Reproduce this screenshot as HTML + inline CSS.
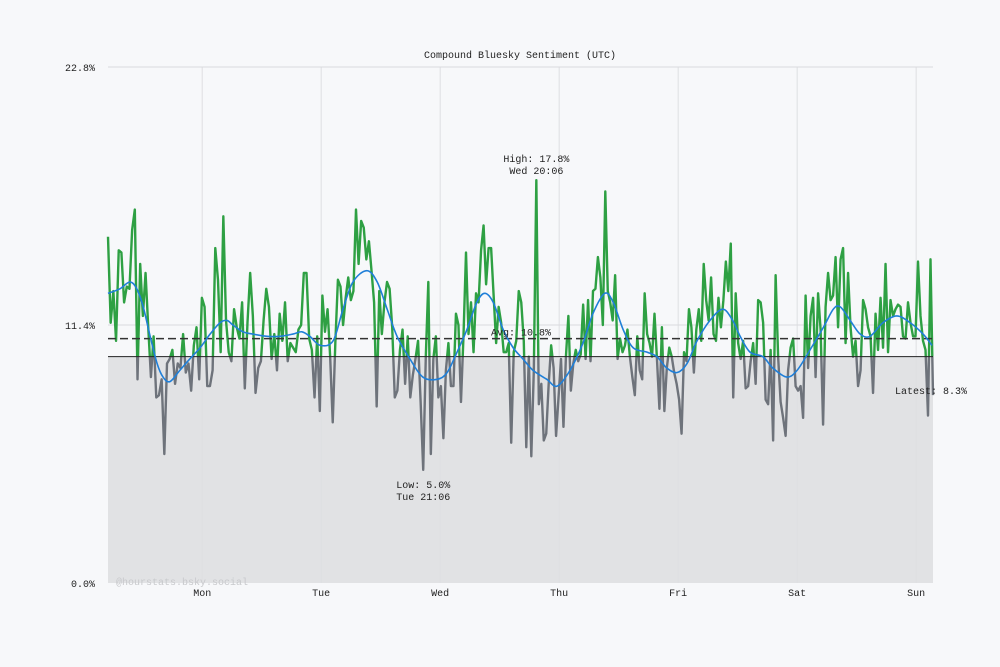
<!DOCTYPE html>
<html><head><meta charset="utf-8"><style>
html,body{margin:0;padding:0;background:#f7f8fa;}
svg{display:block;font-family:"Liberation Mono","DejaVu Sans Mono",monospace;}
</style></head><body>
<svg id="chart" width="1000" height="667" viewBox="0 0 1000 667" xmlns="http://www.w3.org/2000/svg">
<rect width="1000" height="667" fill="#f7f8fa"/>
<text x="520" y="58" text-anchor="middle" font-size="10" fill="#222">Compound Bluesky Sentiment (UTC)</text>
<g id="plot"></g>
</svg>
<script>
const dayLabels = ["Mon","Tue","Wed","Thu","Fri","Sat","Sun"];
const dayStartHours = [19, 43, 67, 91, 115, 139, 163];
const yTickValues = [0, 11.4, 22.8];
const yTickLabels = ["0.0%", "11.4%", "22.8%"];
const threshold = 10.0;
const average = 10.8;
const sentiment = [
15.3,11.5,12.9,10.7,14.7,14.6,12.4,13.1,13.0,15.6,16.5,9.0,14.1,11.8,13.7,11.3,9.1,10.9,8.2,8.3,9.0,5.7,9.7,9.9,10.3,8.8,9.7,9.5,11.0,9.3,9.7,8.5,10.5,11.3,9.0,12.6,12.2,8.7,8.7,9.4,14.8,13.4,10.2,16.2,11.6,10.2,9.8,12.1,11.3,10.8,12.4,8.6,11.5,13.7,11.8,8.4,9.5,9.8,11.6,13.0,12.2,9.9,11.0,9.4,11.9,10.7,12.4,9.8,10.6,10.4,10.2,11.2,11.4,13.7,13.7,10.8,10.3,8.2,10.9,
7.6,12.7,11.1,12.1,10.0,7.1,10.6,13.4,13.1,11.4,12.6,13.5,12.5,12.9,16.5,14.1,16.0,15.7,14.3,15.1,13.8,12.4,7.8,12.9,11.0,12.4,13.3,13.0,11.3,8.2,8.5,10.3,11.2,8.8,10.9,8.2,9.2,9.9,10.7,8.0,5.0,10.0,13.3,5.7,9.9,10.9,8.2,8.7,6.4,9.4,10.6,8.7,8.7,11.9,11.4,8.0,10.9,14.6,11.0,12.4,10.2,12.8,12.4,14.7,15.8,13.2,14.8,14.8,12.7,10.6,12.2,11.5,10.2,10.2,10.6,6.2,10.2,10.7,12.9,12.4,10.7,6.0,
10.0,5.6,9.4,17.8,7.9,8.8,6.3,6.6,8.8,10.5,9.5,6.5,8.2,9.9,6.9,10.0,11.8,8.5,9.7,10.3,9.8,10.1,12.3,9.9,12.5,9.8,12.9,13.0,14.4,13.5,11.4,17.3,12.9,12.4,11.6,13.6,9.9,10.8,10.2,10.5,11.2,10.0,9.1,8.3,10.9,9.4,9.0,12.8,11.0,10.6,10.0,11.9,9.9,7.7,11.3,7.6,9.5,10.4,10.0,9.3,8.8,8.1,6.6,10.2,9.8,12.1,11.3,9.3,11.2,12.1,10.7,14.1,12.5,11.6,13.5,11.0,10.7,12.6,11.3,12.5,14.2,12.9,15.0,8.2,12.8,
10.6,9.9,10.7,8.6,8.7,9.8,10.6,8.8,12.5,12.4,11.5,8.1,7.9,10.3,6.3,13.6,10.0,8.0,7.3,6.5,9.4,10.4,10.8,8.7,8.5,8.7,7.3,12.7,9.5,11.8,12.6,9.1,12.8,11.2,7.0,12.2,13.7,12.5,12.7,14.4,11.3,14.3,14.8,10.6,13.7,11.3,10.0,10.7,8.7,9.4,12.5,12.1,11.3,10.9,8.4,11.9,10.3,12.6,10.4,14.1,10.2,12.5,11.8,12.1,12.3,12.2,10.9,10.8,12.4,11.5,10.9,10.9,14.2,11.8,10.7,10.3,7.4,14.3,8.3
];
// observation-time anchors (sample index -> hours since start)
const anchorIndex = [0, 78, 120, 165, 193, 246, sentiment.length - 1];
const anchorHours = [0, 42.2, 64.1, 86.9, 100.8, 127.1, 166.4];
const trendHours = [0,2.4,4.4,5.8,7.1,8.5,9.9,11.1,12.5,14.5,16.5,18.6,20.6,22.6,24.0,25.2,27.2,29.2,32.1,34.7,37.3,39.1,40.7,42.8,45.4,47.4,49.4,52.2,54.3,56.3,58.3,60.9,63.5,66.4,68.4,70.4,72.4,74.4,76.0,77.7,79.7,81.7,83.7,85.7,88.5,90.6,93.2,95.8,97.8,100.2,101.9,103.9,105.9,108.7,110.7,112.7,114.8,116.8,118.8,121.4,124.0,126.0,127.5,129.5,132.1,134.1,136.9,139.0,141.6,144.3,146.3,147.7,149.7,151.7,153.7,156.3,159.1,161.8,164.4,166.2];
const trendValues = [12.8,13.0,13.3,13.0,12.2,10.9,9.7,9.1,8.9,9.4,9.9,10.4,11.0,11.5,11.6,11.4,11.1,11.0,10.9,10.9,11.0,11.1,10.9,10.5,10.7,12.1,13.3,13.8,13.3,12.1,10.9,9.9,9.1,9.0,9.3,10.2,11.2,12.4,12.8,12.4,11.2,10.4,9.9,9.4,9.0,8.7,9.4,10.6,11.9,12.8,12.4,11.2,10.4,10.2,10.0,9.5,9.3,9.7,10.7,11.6,12.1,11.6,10.9,10.2,10.0,9.5,9.1,9.4,10.3,11.3,12.1,12.2,11.6,11.0,10.9,11.5,11.8,11.5,11.0,10.5];

const X0 = 108, X1 = 933, Y0 = 583, Y1 = 67, totalHours = 166.4, yMax = 22.8;
const xScale = h => X0 + h / totalHours * (X1 - X0);
const yScale = v => Y0 - v / yMax * (Y0 - Y1);
function indexToHour(i) {
  for (let k = 0; k < anchorIndex.length - 1; k++) {
    if (i <= anchorIndex[k + 1]) {
      const f = (i - anchorIndex[k]) / (anchorIndex[k + 1] - anchorIndex[k]);
      return anchorHours[k] + f * (anchorHours[k + 1] - anchorHours[k]);
    }
  }
  return anchorHours[anchorHours.length - 1];
}
const NS = "http://www.w3.org/2000/svg";
const plot = document.getElementById("plot");
function mk(tag, attrs, parent) {
  const e = document.createElementNS(NS, tag);
  for (const k in attrs) e.setAttribute(k, attrs[k]);
  (parent || plot).appendChild(e);
  return e;
}
const yT = yScale(threshold);
const defs = mk("defs", {});
const cA = mk("clipPath", {id: "above"}, defs);
mk("rect", {x: 0, y: 0, width: 1000, height: yT}, cA);
const cB = mk("clipPath", {id: "below"}, defs);
mk("rect", {x: 0, y: yT, width: 1000, height: 667 - yT}, cB);

const low = mk("rect", {x: X0, y: yT, width: X1 - X0, height: Y0 - yT, fill: "#e1e2e4"});



dayLabels.forEach((d, i) => {
  const x = xScale(dayStartHours[i]);
  const g = mk("line", {x1: x, x2: x, y1: Y1, y2: Y0, stroke: "#dedfe2", "stroke-width": 1});
  
  
  const t = mk("text", {x: x, y: 596, "text-anchor": "middle", "font-size": 10, fill: "#222"});
  t.textContent = d;
  
  
});
yTickValues.forEach((v, i) => {
  const y = yScale(v);
  if (v > 0) {
    const g = mk("line", {x1: X0, x2: X1, y1: y, y2: y, stroke: "#d9dadd", "stroke-width": 1});
    
    
  }
  const t = mk("text", {x: 95, y: y + 4, "text-anchor": "end", "font-size": 10, fill: "#222"});
  t.textContent = yTickLabels[i];
  
  
});
const wm = mk("text", {x: 116, y: 585, "font-size": 10, fill: "#c8c9cc"});
wm.textContent = "@hourstats.bsky.social";



const n = sentiment.length;
const pts = sentiment.map((v, i) => [xScale(indexToHour(i)), yScale(v)]);
const d = "M" + pts.map(p => p[0].toFixed(2) + "," + p[1].toFixed(2)).join("L");
const lineG = mk("path", {d: d, fill: "none", stroke: "#2ea043", "stroke-width": 2.4, "stroke-linejoin": "round", "clip-path": "url(#above)"});


const lineB = mk("path", {d: d, fill: "none", stroke: "#6e737b", "stroke-width": 2.4, "stroke-linejoin": "round", "clip-path": "url(#below)"});



const th = mk("line", {x1: X0, x2: X1, y1: yT, y2: yT, stroke: "#222", "stroke-width": 1});


const yA = yScale(average);
const av = mk("line", {x1: X0, x2: X1, y1: yA, y2: yA, stroke: "#333", "stroke-width": 1.5, "stroke-dasharray": "8,4"});



const tp = trendHours.map((h, i) => [xScale(h), yScale(trendValues[i])]);
let td = "M" + tp[0][0] + "," + tp[0][1];
for (let i = 0; i < tp.length - 1; i++) {
  const p0 = tp[Math.max(0, i - 1)], p1 = tp[i], p2 = tp[i + 1], p3 = tp[Math.min(tp.length - 1, i + 2)];
  const c1 = [p1[0] + (p2[0] - p0[0]) / 6, p1[1] + (p2[1] - p0[1]) / 6];
  const c2 = [p2[0] - (p3[0] - p1[0]) / 6, p2[1] - (p3[1] - p1[1]) / 6];
  td += "C" + c1.join(",") + " " + c2.join(",") + " " + p2.join(",");
}
const tr = mk("path", {d: td, fill: "none", stroke: "#1f7fd8", "stroke-width": 1.6});



function label(txt, x, y, anchor, name) {
  const t = mk("text", {x: x, y: y, "text-anchor": anchor, "font-size": 10, fill: "#222"});
  t.textContent = txt;
  
  
}
let hi = 0, lo = 0;
sentiment.forEach((v, i) => { if (v > sentiment[hi]) hi = i; if (v < sentiment[lo]) lo = i; });
const hx = pts[hi][0], lx = pts[lo][0];
label("High: " + sentiment[hi].toFixed(1) + "%", hx, 162, "middle", "high-label");
label("Wed 20:06", hx, 174, "middle", "high-time-label");
label("Low: " + sentiment[lo].toFixed(1) + "%", lx, 488, "middle", "low-label");
label("Tue 21:06", lx, 500, "middle", "low-time-label");
label("Avg: " + average.toFixed(1) + "%", 491, yA - 3, "start", "average-label");
label("Latest: " + sentiment[n - 1].toFixed(1) + "%", 967, 394, "end", "latest-label");
</script>
</body></html>
